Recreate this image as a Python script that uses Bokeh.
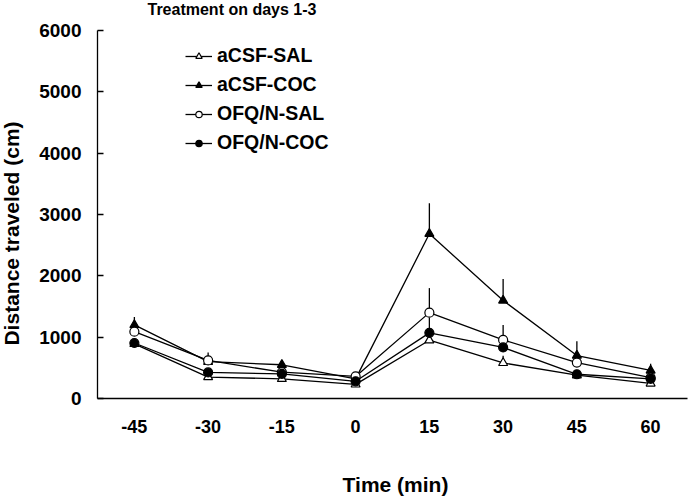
import math
from bokeh.plotting import figure
from bokeh.models import (Range1d, FixedTicker, Legend, LegendItem, Label)
from bokeh.embed import file_html
from bokeh.resources import INLINE

# ---- data ----
times = [-45, -30, -15, 0, 15, 30, 45, 60]
y_ticks = [0, 1000, 2000, 3000, 4000, 5000, 6000]

acsf_sal = [890, 350, 320, 230, 950, 580, 380, 245]
acsf_sal_err = [60, 40, 30, 30, 120, 115, 40, 30]

acsf_coc = [1200, 600, 550, 320, 2685, 1598, 700, 457]
acsf_coc_err = [130, 60, 70, 40, 500, 350, 235, 110]

ofq_sal = [1090, 620, 430, 360, 1400, 955, 585, 340]
ofq_sal_err = [80, 130, 50, 70, 400, 245, 60, 40]

ofq_coc = [905, 425, 400, 280, 1070, 832, 395, 320]
ofq_coc_err = [50, 40, 40, 30, 250, 130, 40, 30]

series = [
    ("aCSF-SAL", acsf_sal, acsf_sal_err, "triangle", "white"),
    ("aCSF-COC", acsf_coc, acsf_coc_err, "triangle", "black"),
    ("OFQ/N-SAL", ofq_sal, ofq_sal_err, "circle", "white"),
    ("OFQ/N-COC", ofq_coc, ofq_coc_err, "circle", "black"),
]

title_text = "Treatment on days 1-3"
x_label = "Time (min)"
y_label = "Distance traveled (cm)"

FONT = "Liberation Sans"

# ---- layout geometry (pixels) ----
W, H = 689, 498
FRAME_L, FRAME_R, FRAME_T, FRAME_B = 97, 687, 30, 398
step_px = (FRAME_R - FRAME_L) / len(times)          # px per category step
px_per_min = step_px / 15.0
x_lo = times[0] - 7.5                                 # axis start (data)
x_hi = times[-1] + 7.5                                # axis end (data)
x_start = x_lo - FRAME_L / px_per_min
x_end = x_start + W / px_per_min
y_per_px = y_ticks[-1] / float(FRAME_B - FRAME_T)
y_start = -(H - FRAME_B) * y_per_px
y_end = y_ticks[-1] + FRAME_T * y_per_px


def dx(px):
    return x_start + px / px_per_min


def dy(py):
    return y_end - py * y_per_px


p = figure(width=W, height=H, output_backend="svg", toolbar_location=None,
           x_range=Range1d(x_start, x_end), y_range=Range1d(y_start, y_end),
           min_border_left=0, min_border_right=0, min_border_top=0, min_border_bottom=0)
p.outline_line_color = None
p.xgrid.visible = False
p.ygrid.visible = False
p.background_fill_color = "white"
p.border_fill_color = "white"

# axes drawn at fixed locations inside the canvas
p.yaxis.fixed_location = x_lo
p.yaxis.bounds = (y_ticks[0], y_ticks[-1])
p.yaxis.ticker = FixedTicker(ticks=y_ticks)
p.yaxis.minor_tick_line_color = None
p.yaxis.major_tick_in = 6
p.yaxis.major_tick_out = 0
p.yaxis.major_tick_line_width = 1.3
p.yaxis.axis_line_width = 1.3
p.yaxis.major_label_text_font = FONT
p.yaxis.major_label_text_font_style = "bold"
p.yaxis.major_label_text_font_size = "19px"
p.yaxis.major_label_text_color = "black"
p.yaxis.major_label_standoff = 16

p.xaxis.fixed_location = 0
p.xaxis.bounds = (x_lo, x_hi)
p.xaxis.ticker = FixedTicker(ticks=times)
p.xaxis.major_label_overrides = {t: str(t) for t in times}
p.xaxis.major_tick_in = 0
p.xaxis.major_tick_out = 0
p.xaxis.minor_tick_line_color = None
p.xaxis.axis_line_width = 1.5
p.xaxis.major_label_text_font = FONT
p.xaxis.major_label_text_font_style = "bold"
p.xaxis.major_label_text_font_size = "18px"
p.xaxis.major_label_text_color = "black"
p.xaxis.major_label_standoff = 21

items = []
for name, vals, errs, marker, fill in series:
    tops = [v + e for v, e in zip(vals, errs)]
    p.segment(x0=times, y0=vals, x1=times, y1=tops, line_color="black", line_width=1.3)
for name, vals, errs, marker, fill in series:
    lr = p.line(times, vals, line_color="black", line_width=1.3)
    sr = p.scatter(times, vals, marker=marker, size=9,
                   fill_color=fill, line_color="black", line_width=1.2)
    items.append(LegendItem(label=name, renderers=[lr, sr]))

legend = Legend(items=items, location=(185, 344), padding=0, margin=0,
                border_line_color=None, background_fill_alpha=0,
                glyph_width=27, glyph_height=16, label_height=20,
                label_standoff=5, spacing=6,
                label_text_font=FONT, label_text_font_style="bold",
                label_text_font_size="19.5px", label_text_color="black")
p.add_layout(legend, "center")

# title and axis titles
p.add_layout(Label(x=dx(147), y=dy(9), text=title_text,
                   text_font=FONT, text_font_style="bold", text_font_size="16px",
                   text_color="black", text_baseline="alphabetic", text_align="left"))
p.add_layout(Label(x=dx(395), y=dy(484), text=x_label,
                   text_font=FONT, text_font_style="bold", text_font_size="21px",
                   text_color="black", text_baseline="alphabetic", text_align="center"))
p.add_layout(Label(x=dx(11), y=dy(233), text=y_label, angle=math.pi / 2,
                   text_font=FONT, text_font_style="bold", text_font_size="21px",
                   text_color="black", text_baseline="alphabetic", text_align="center"))

open("out.html", "w").write(file_html(p, INLINE))
